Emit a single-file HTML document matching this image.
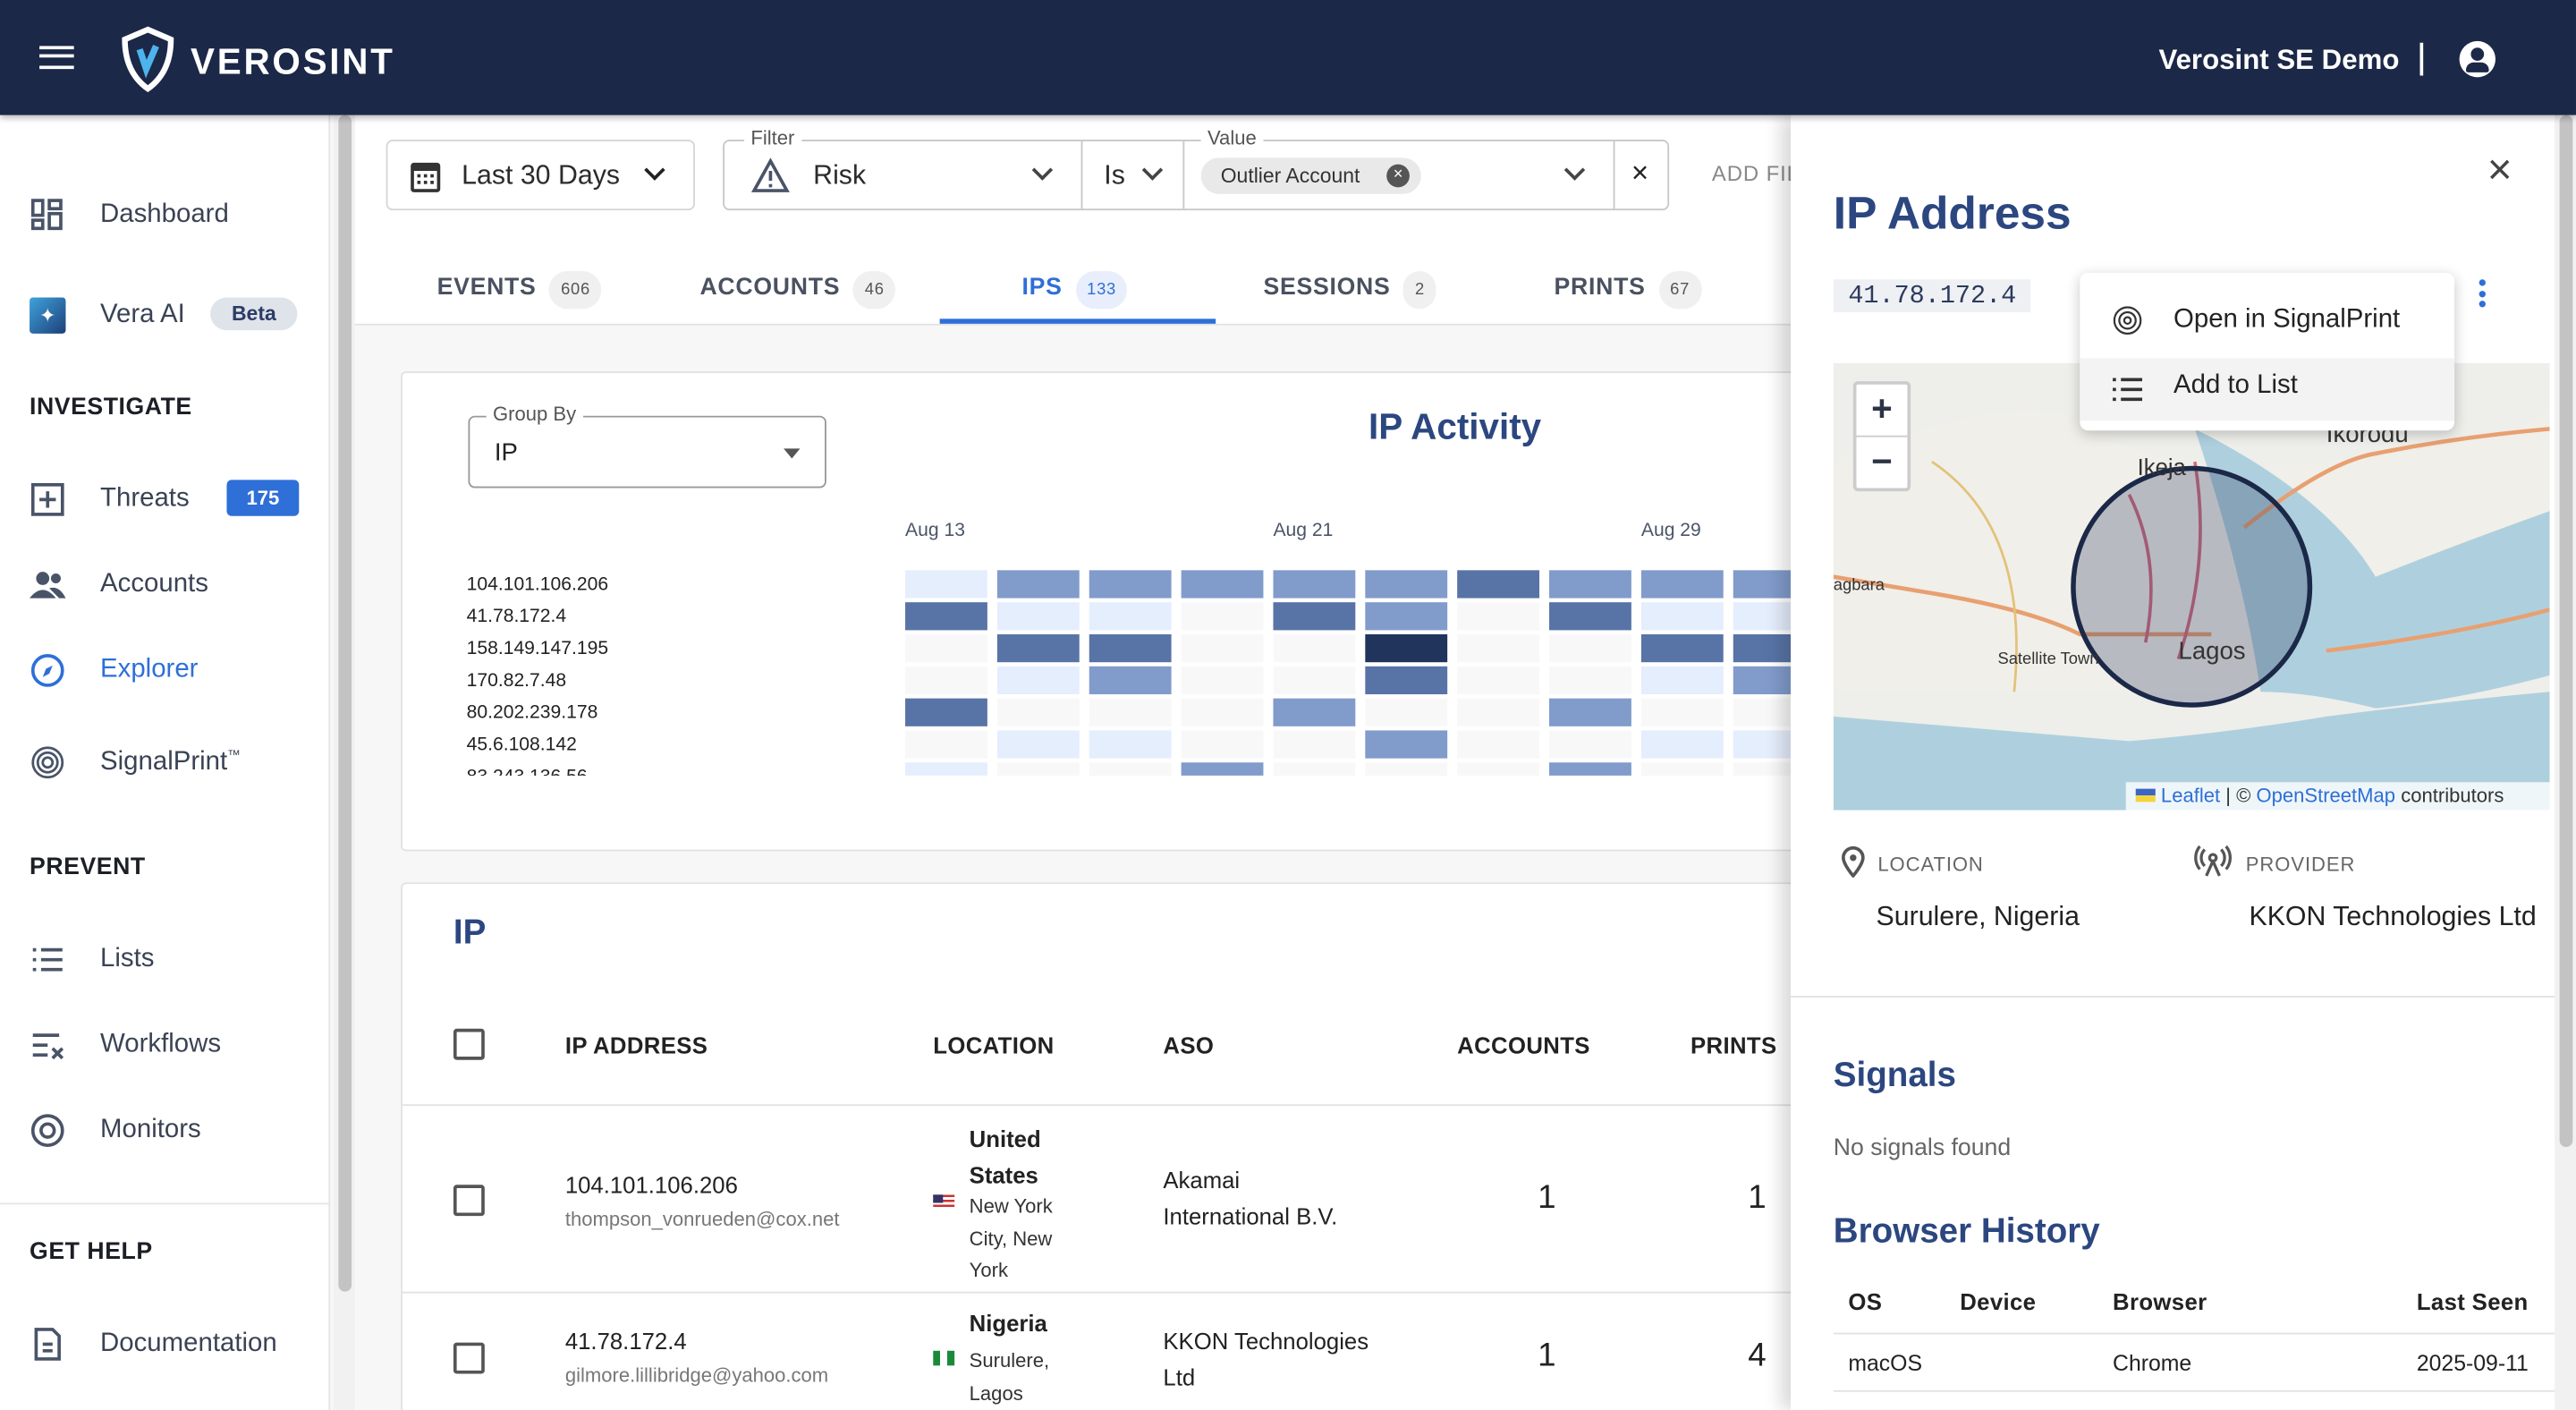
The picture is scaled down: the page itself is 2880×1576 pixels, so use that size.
<!DOCTYPE html>
<html><head><meta charset="utf-8">
<style>
*{box-sizing:border-box;margin:0;padding:0}
html,body{width:2880px;height:1576px;overflow:hidden;background:#fff}
body{font-family:"Liberation Sans",sans-serif;color:#2b3445}
#root{position:absolute;left:0;top:0;width:1568px;height:858px;transform:scale(1.83673);transform-origin:0 0;overflow:hidden;background:#f7f7f8}
.abs{position:absolute}
.hdr{left:0;top:0;width:1568px;height:70px;background:#1b2848;box-shadow:0 2px 4px rgba(0,0,0,.3);z-index:5}
.side{left:0;top:70px;width:201px;height:788px;background:#fff;border-right:1px solid #e4e4e4}
.nav{left:18px;font-size:16px;color:#3a4354}
.nav span{position:absolute;left:43px;white-space:nowrap}
.sec{left:18px;font-size:14.5px;font-weight:bold;color:#1c1f26;letter-spacing:.3px}
.ico{position:absolute;left:0;top:-2px;width:22px;height:22px}
.tab{font-size:14.5px;color:#4a5160;letter-spacing:.4px;font-weight:bold}
.badge{display:inline-block;background:#f0f0f0;border-radius:12px;font-size:10px;padding:6px 7px;margin-left:8px;color:#555;font-weight:normal}
.card{background:#fff;border:1px solid #e2e2e2;border-radius:3px}
.th{font-size:14px;font-weight:bold;color:#222;letter-spacing:.2px}
.cb{width:19px;height:19px;border:2px solid #555;border-radius:2px}
</style></head><body>
<div id="root">
<div class="abs hdr">
  <div class="abs" style="left:24px;top:28px;width:21px;height:14px;border-top:2.5px solid #fff;border-bottom:2.5px solid #fff"><div style="margin-top:3.3px;border-top:2.5px solid #fff"></div></div>
  <svg class="abs" style="left:73px;top:16px" width="34" height="40" viewBox="0 0 34 40"><path d="M17 2 L31 8 Q31 28 17 38 Q3 28 3 8 Z" fill="none" stroke="#fff" stroke-width="3.5"/><path d="M12 14 L16 26 L22 12" fill="none" stroke="#4db3ec" stroke-width="4"/></svg>
  <div class="abs" style="left:116px;top:25px;color:#fff;font-size:22px;font-weight:bold;letter-spacing:1.5px">VEROSINT</div>
  <div class="abs" style="left:1314px;top:27px;color:#fff;font-size:17px;font-weight:bold">Verosint SE Demo</div>
  <div class="abs" style="left:1473px;top:26px;width:2px;height:20px;background:#fff"></div>
  <div class="abs" style="left:1497px;top:25px;width:22px;height:22px;border-radius:50%;background:#fff"><div style="position:absolute;left:7px;top:4px;width:8px;height:8px;border-radius:50%;background:#1b2848"></div><div style="position:absolute;left:4px;top:13px;width:14px;height:6px;border-radius:7px 7px 2px 2px;background:#1b2848"></div></div>
</div>

<div class="abs side">
  <div class="abs nav" style="top:52px"><svg class="ico" viewBox="0 0 22 22"><g fill="none" stroke="#4a5468" stroke-width="2"><rect x="2" y="2" width="6" height="9"/><rect x="12" y="2" width="7" height="5"/><rect x="2" y="14" width="6" height="5"/><rect x="12" y="10" width="7" height="9"/></g></svg><span>Dashboard</span></div>
  <div class="abs nav" style="top:113px"><div class="ico" style="background:linear-gradient(135deg,#3ea3dd,#1e3f78);border-radius:2px;color:#fff;font-size:12px;text-align:center;line-height:22px">✦</div><span>Vera AI</span><span style="left:110px;top:-2px;background:#dfe3ea;color:#2c3c66;font-size:12.5px;font-weight:bold;padding:3px 13px;border-radius:10px">Beta</span></div>
  <div class="abs sec" style="top:170px">INVESTIGATE</div>
  <div class="abs nav" style="top:225px"><svg class="ico" viewBox="0 0 22 22"><rect x="2" y="2" width="18" height="18" fill="none" stroke="#4a5468" stroke-width="2"/><path d="M11 6v10M6 11h10" stroke="#4a5468" stroke-width="2"/></svg><span>Threats</span><span style="left:120px;top:-3px;background:#2e6fd8;color:#fff;font-size:12px;font-weight:bold;padding:4px 12px;border-radius:3px">175</span></div>
  <div class="abs nav" style="top:277px"><svg class="ico" viewBox="0 0 22 22"><g fill="#4a5468"><circle cx="8" cy="7" r="4"/><circle cx="16" cy="7" r="3"/><path d="M0 19q8-10 16 0z"/><path d="M12 13q6-2 10 6h-4z"/></g></svg><span>Accounts</span></div>
  <div class="abs nav" style="top:329px;color:#2e6fd8"><svg class="ico" viewBox="0 0 22 22"><circle cx="11" cy="11" r="9" fill="none" stroke="#2e6fd8" stroke-width="2"/><path d="M14 8l-2 5-4 2 2-5z" fill="#2e6fd8"/></svg><span>Explorer</span></div>
  <div class="abs nav" style="top:385px"><svg class="ico" viewBox="0 0 22 22"><g fill="none" stroke="#4a5468" stroke-width="1.5"><circle cx="11" cy="11" r="9"/><circle cx="11" cy="11" r="6"/><circle cx="11" cy="11" r="3"/></g></svg><span>SignalPrint<sup style="font-size:8px">™</sup></span></div>
  <div class="abs sec" style="top:450px">PREVENT</div>
  <div class="abs nav" style="top:505px"><svg class="ico" viewBox="0 0 22 22"><g stroke="#4a5468" stroke-width="2"><path d="M2 5h2M7 5h13M2 11h2M7 11h13M2 17h2M7 17h13"/></g></svg><span>Lists</span></div>
  <div class="abs nav" style="top:557px"><svg class="ico" viewBox="0 0 22 22"><g stroke="#4a5468" stroke-width="2"><path d="M2 5h16M2 11h9M2 17h9M14 13l6 6M20 13l-6 6"/></g></svg><span>Workflows</span></div>
  <div class="abs nav" style="top:609px"><svg class="ico" viewBox="0 0 22 22"><g fill="none" stroke="#4a5468" stroke-width="2"><circle cx="11" cy="11" r="9"/><circle cx="11" cy="11" r="4"/></g></svg><span>Monitors</span></div>
  <div class="abs" style="left:0;top:662px;width:200px;border-top:1px solid #e4e4e4"></div>
  <div class="abs sec" style="top:684px">GET HELP</div>
  <div class="abs nav" style="top:739px"><svg class="ico" viewBox="0 0 22 22"><path d="M4 2h10l4 4v14H4z M8 11h6M8 15h6" fill="none" stroke="#4a5468" stroke-width="2"/></svg><span>Documentation</span></div>
</div>
<div class="abs" style="left:203px;top:70px;width:13px;height:788px;background:#f1f1f1"><div style="margin:0 auto;width:8px;height:716px;background:#c3c3c3;border-radius:4px"></div></div>

<!-- main top -->
<div class="abs" style="left:216px;top:70px;width:880px;height:128px;background:#fff;border-bottom:1px solid #e2e2e2"></div>
<div class="abs" style="left:235px;top:85px;width:188px;height:43px;border:1px solid #d6d6d6;border-radius:4px;background:#fff">
  <svg class="abs" style="left:13px;top:10px" width="20" height="22" viewBox="0 0 20 22"><rect x="1" y="3" width="18" height="18" rx="2" fill="#333"/><rect x="3" y="8" width="14" height="11" fill="#fff"/><g fill="#333"><rect x="5" y="10" width="2" height="2"/><rect x="9" y="10" width="2" height="2"/><rect x="13" y="10" width="2" height="2"/><rect x="5" y="14" width="2" height="2"/><rect x="9" y="14" width="2" height="2"/><rect x="13" y="14" width="2" height="2"/></g></svg>
  <div class="abs" style="left:45px;top:12px;font-size:16.5px;color:#2b2b2b">Last 30 Days</div>
  <div class="abs" style="left:158px;top:13px;width:9px;height:9px;border-right:2px solid #222;border-bottom:2px solid #222;transform:rotate(45deg)"></div>
</div>
<div class="abs" style="left:440px;top:85px;width:576px;height:43px;border:1px solid #c8c8c8;border-radius:4px;background:#fff">
  <div class="abs" style="left:12px;top:-9px;background:#fff;padding:0 4px;font-size:12px;color:#555">Filter</div>
  <svg class="abs" style="left:16px;top:10px" width="24" height="22" viewBox="0 0 24 22"><path d="M12 2L22 20H2Z" fill="none" stroke="#4a5468" stroke-width="2"/><path d="M12 8v6M12 16v2" stroke="#4a5468" stroke-width="2"/></svg>
  <div class="abs" style="left:54px;top:12px;font-size:16.5px;color:#2b2b2b">Risk</div>
  <div class="abs" style="left:189px;top:13px;width:9px;height:9px;border-right:2px solid #444;border-bottom:2px solid #444;transform:rotate(45deg)"></div>
  <div class="abs" style="left:217px;top:0;height:41px;border-left:1px solid #c8c8c8"></div>
  <div class="abs" style="left:231px;top:12px;font-size:16.5px;color:#2b2b2b">Is</div>
  <div class="abs" style="left:256px;top:13px;width:9px;height:9px;border-right:2px solid #444;border-bottom:2px solid #444;transform:rotate(45deg)"></div>
  <div class="abs" style="left:279px;top:0;height:41px;border-left:1px solid #c8c8c8"></div>
  <div class="abs" style="left:290px;top:-9px;background:#fff;padding:0 4px;font-size:12px;color:#555">Value</div>
  <div class="abs" style="left:290px;top:10px;width:134px;height:22px;background:#e9e9e9;border-radius:11px;font-size:12.5px;color:#333;padding:4px 12px">Outlier Account<span style="position:absolute;right:7px;top:4px;width:14px;height:14px;border-radius:50%;background:#555;color:#fff;font-size:10px;line-height:14px;text-align:center">×</span></div>
  <div class="abs" style="left:513px;top:13px;width:9px;height:9px;border-right:2px solid #444;border-bottom:2px solid #444;transform:rotate(45deg)"></div>
  <div class="abs" style="left:541px;top:0;height:41px;border-left:1px solid #c8c8c8"></div>
  <div class="abs" style="left:552px;top:9px;font-size:18px;color:#222">×</div>
</div>
<div class="abs" style="left:1042px;top:98px;font-size:13px;color:#888;letter-spacing:.5px">ADD FILTER</div>

<div class="abs tab" style="left:266px;top:165px">EVENTS<span class="badge">606</span></div>
<div class="abs tab" style="left:426px;top:165px">ACCOUNTS<span class="badge">46</span></div>
<div class="abs tab" style="left:622px;top:165px;color:#2e6fd8">IPS<span class="badge" style="background:#e8eefb;color:#2e6fd8">133</span></div>
<div class="abs" style="left:572px;top:194px;width:168px;height:3px;background:#2e6fd8"></div>
<div class="abs tab" style="left:769px;top:165px">SESSIONS<span class="badge">2</span></div>
<div class="abs tab" style="left:946px;top:165px">PRINTS<span class="badge">67</span></div>

<!-- IP activity card -->
<div class="abs card" style="left:244px;top:226px;width:870px;height:292px">
  <div class="abs" style="left:40px;top:26px;width:218px;height:44px;border:1px solid #999;border-radius:4px">
    <div class="abs" style="left:10px;top:-9px;background:#fff;padding:0 4px;font-size:12px;color:#555">Group By</div>
    <div class="abs" style="left:15px;top:13px;font-size:15px;color:#222">IP</div>
    <div class="abs" style="left:191px;top:19px;border:5px solid transparent;border-top:6px solid #555"></div>
  </div>
  <div class="abs" style="left:588px;top:20px;font-size:22px;font-weight:bold;color:#2c4780">IP Activity</div>
</div>
<svg class="abs" style="left:270px;top:300px" width="830" height="175" id="hm"></svg>

<!-- IP table card -->
<div class="abs card" style="left:244px;top:537px;width:870px;height:340px">
  <div class="abs" style="left:31px;top:18px;font-size:21px;font-weight:bold;color:#2c4780">IP</div>
  <div class="abs cb" style="left:31px;top:88px"></div>
  <div class="abs th" style="left:99px;top:90px">IP ADDRESS</div>
  <div class="abs th" style="left:323px;top:90px">LOCATION</div>
  <div class="abs th" style="left:463px;top:90px">ASO</div>
  <div class="abs th" style="left:642px;top:90px">ACCOUNTS</div>
  <div class="abs th" style="left:784px;top:90px">PRINTS</div>
  <div class="abs" style="left:0;top:134px;width:870px;border-top:1px solid #e2e2e2"></div>
  <div class="abs" style="left:0;top:248px;width:870px;border-top:1px solid #e2e2e2"></div>
  <div class="abs" style="left:0;top:135px;width:870px;height:113px">
    <div class="abs cb" style="left:31px;top:48px"></div>
    <div class="abs" style="left:99px;top:40px;font-size:14px;color:#222">104.101.106.206</div>
    <div class="abs" style="left:99px;top:62px;font-size:12px;color:#777">thompson_vonrueden@cox.net</div>
    <div class="abs" style="left:323px;top:54px;width:13px;height:9px;background:repeating-linear-gradient(#c33 0 1.5px,#fff 1.5px 3px)"><div style="width:6px;height:5px;background:#336"></div></div>
    <div class="abs" style="left:345px;top:9px;font-size:14px;font-weight:bold;color:#222;line-height:22px">United<br>States</div>
    <div class="abs" style="left:345px;top:52px;font-size:12px;color:#333;line-height:19.5px">New York<br>City, New<br>York</div>
    <div class="abs" style="left:463px;top:34px;font-size:14px;color:#222;line-height:22px">Akamai<br>International B.V.</div>
    <div class="abs" style="left:691px;top:45px;font-size:20px;color:#222">1</div>
    <div class="abs" style="left:819px;top:45px;font-size:20px;color:#222">1</div>
  </div>
  <div class="abs" style="left:0;top:249px;width:870px;height:100px">
    <div class="abs cb" style="left:31px;top:30px"></div>
    <div class="abs" style="left:99px;top:21px;font-size:14px;color:#222">41.78.172.4</div>
    <div class="abs" style="left:99px;top:43px;font-size:12px;color:#777">gilmore.lillibridge@yahoo.com</div>
    <div class="abs" style="left:323px;top:35px;width:13px;height:9px;background:linear-gradient(90deg,#1a8a3a 33%,#fff 33% 66%,#1a8a3a 66%)"></div>
    <div class="abs" style="left:345px;top:10px;font-size:14px;font-weight:bold;color:#222">Nigeria</div>
    <div class="abs" style="left:345px;top:32px;font-size:12px;color:#333;line-height:19.5px">Surulere,<br>Lagos</div>
    <div class="abs" style="left:463px;top:18px;font-size:14px;color:#222;line-height:22px">KKON Technologies<br>Ltd</div>
    <div class="abs" style="left:691px;top:27px;font-size:20px;color:#222">1</div>
    <div class="abs" style="left:819px;top:27px;font-size:20px;color:#222">4</div>
  </div>
</div>

<!-- side panel -->
<div class="abs" style="left:1090px;top:70px;width:478px;height:788px;background:#fff;box-shadow:-6px 0 10px rgba(0,0,0,.15);z-index:3">
  <div class="abs" style="left:424px;top:22px;font-size:26px;color:#444;line-height:22px">×</div>
  <div class="abs" style="left:26px;top:44px;font-size:28px;font-weight:bold;color:#2c4780">IP Address</div>
  <div class="abs" style="left:26px;top:100px;background:#eef0f3;font-family:'Liberation Mono',monospace;font-size:15.5px;color:#2c3a5e;padding:1px 9px">41.78.172.4</div>
  <div class="abs" style="left:418px;top:100px;width:6px;height:18px"><div style="width:4px;height:4px;border-radius:2px;background:#2e6fd8;margin:0 auto 2.5px"></div><div style="width:4px;height:4px;border-radius:2px;background:#2e6fd8;margin:0 auto 2.5px"></div><div style="width:4px;height:4px;border-radius:2px;background:#2e6fd8;margin:0 auto"></div></div>
  <div class="abs" style="left:26px;top:151px;width:436px;height:272px;overflow:hidden;background:#eeeeea">
    <svg width="436" height="272" viewBox="0 0 436 272">
      <path d="M0 60 Q120 10 160 40 T300 60 T436 30 V120 Q380 110 330 150 Q300 180 260 200 L0 200Z" fill="#f0efe9"/>
      <path d="M220 40 Q300 80 330 130 Q380 110 436 90 V190 Q380 205 330 210 Q290 200 260 200 Q250 130 220 40Z" fill="#aed0de"/>
      <path d="M0 215 Q120 225 180 230 Q240 225 300 215 Q380 205 436 200 V272 H0Z" fill="#aed0de"/>
      <path d="M0 130 L60 140 Q120 150 150 165 L230 165" fill="none" stroke="#e8a071" stroke-width="2.5"/>
      <path d="M250 100 Q300 60 330 55 Q380 45 436 40" fill="none" stroke="#e8a071" stroke-width="2.5"/>
      <path d="M180 80 Q200 120 190 170 M220 60 Q230 120 210 180" fill="none" stroke="#d26b80" stroke-width="2"/>
      <path d="M300 175 Q380 165 436 150" fill="none" stroke="#e8a071" stroke-width="2.5"/>
      <path d="M60 60 Q120 100 110 200" fill="none" stroke="#e3c27a" stroke-width="1.5"/>
      <ellipse cx="218" cy="136" rx="72" ry="72" fill="rgba(40,50,90,.28)" stroke="#1b2848" stroke-width="3"/>
      <text x="210" y="180" font-family="Liberation Sans" font-size="15" fill="#333">Lagos</text>
      <text x="185" y="68" font-family="Liberation Sans" font-size="14" fill="#333">Ikeja</text>
      <text x="100" y="183" font-family="Liberation Sans" font-size="10" fill="#333">Satellite Town</text>
      <text x="0" y="138" font-family="Liberation Sans" font-size="10" fill="#333">agbara</text>
      <text x="300" y="48" font-family="Liberation Sans" font-size="15" fill="#333">Ikorodu</text>
    </svg>
    <div class="abs" style="left:12px;top:11px;width:35px;height:67px;background:#fff;border:2px solid #ccc;border-radius:3px"><div style="height:32px;border-bottom:1px solid #ccc;text-align:center;font-size:22px;font-weight:bold;line-height:30px">+</div><div style="text-align:center;font-size:22px;font-weight:bold;line-height:30px">−</div></div>
    <div class="abs" style="left:178px;top:255px;width:258px;height:17px;background:rgba(255,255,255,.8);font-size:12px;color:#333;padding:1px 6px;white-space:nowrap"><span style="display:inline-block;width:12px;height:8px;background:linear-gradient(#3a66c4 50%,#f5d33c 50%)"></span> <span style="color:#2e6fd8">Leaflet</span> | © <span style="color:#2e6fd8">OpenStreetMap</span> contributors</div>
  </div>
  <div class="abs" style="left:176px;top:96px;width:228px;height:96px;background:#fff;border-radius:5px;box-shadow:0 2px 8px rgba(0,0,0,.22)">
    <div class="abs" style="left:0;top:0;width:228px;height:52px"><svg class="abs" style="left:20px;top:20px" width="18" height="18" viewBox="0 0 18 18"><g fill="none" stroke="#333" stroke-width="1.2"><circle cx="9" cy="9" r="8"/><circle cx="9" cy="9" r="5"/><circle cx="9" cy="9" r="2"/></g></svg><div class="abs" style="left:57px;top:20px;font-size:16px;color:#222">Open in SignalPrint</div></div>
    <div class="abs" style="left:0;top:52px;width:228px;height:38px;background:#f3f3f3"><svg class="abs" style="left:20px;top:11px" width="18" height="16" viewBox="0 0 18 16"><g stroke="#333" stroke-width="2"><path d="M0 2h2M5 2h13M0 8h2M5 8h13M0 14h2M5 14h13"/></g></svg><div class="abs" style="left:57px;top:8px;font-size:16px;color:#222">Add to List</div></div>
  </div>
  <svg class="abs" style="left:30px;top:444px" width="16" height="20" viewBox="0 0 16 20"><path d="M8 19s6-7 6-11A6 6 0 0 0 2 8c0 4 6 11 6 11z" fill="none" stroke="#555" stroke-width="2"/><circle cx="8" cy="8" r="2" fill="#555"/></svg>
  <div class="abs" style="left:53px;top:449px;font-size:12px;color:#666;letter-spacing:.5px">LOCATION</div>
  <div class="abs" style="left:52px;top:479px;font-size:16.5px;color:#222">Surulere, Nigeria</div>
  <svg class="abs" style="left:245px;top:444px" width="24" height="20" viewBox="0 0 24 20"><g fill="none" stroke="#555" stroke-width="1.8"><circle cx="12" cy="8" r="2"/><path d="M12 10L8 19M12 10l4 9M7 3a7 7 0 0 0 0 10M17 3a7 7 0 0 1 0 10M4 1a11 11 0 0 0 0 14M20 1a11 11 0 0 1 0 14"/></g></svg>
  <div class="abs" style="left:277px;top:449px;font-size:12px;color:#666;letter-spacing:.5px">PROVIDER</div>
  <div class="abs" style="left:279px;top:479px;font-size:16.5px;color:#222;white-space:nowrap">KKON Technologies Ltd</div>
  <div class="abs" style="left:0;top:536px;width:465px;border-top:1px solid #e2e2e2"></div>
  <div class="abs" style="left:26px;top:573px;font-size:21px;font-weight:bold;color:#2c4780">Signals</div>
  <div class="abs" style="left:26px;top:621px;font-size:14.5px;color:#666">No signals found</div>
  <div class="abs" style="left:26px;top:668px;font-size:21px;font-weight:bold;color:#2c4780">Browser History</div>
  <div class="abs th" style="left:35px;top:714px">OS</div>
  <div class="abs th" style="left:103px;top:714px">Device</div>
  <div class="abs th" style="left:196px;top:714px">Browser</div>
  <div class="abs th" style="left:381px;top:714px">Last Seen</div>
  <div class="abs" style="left:26px;top:741px;width:439px;border-top:1px solid #e2e2e2"></div>
  <div class="abs" style="left:35px;top:752px;font-size:13.5px;color:#222">macOS</div>
  <div class="abs" style="left:196px;top:752px;font-size:13.5px;color:#222">Chrome</div>
  <div class="abs" style="left:381px;top:752px;font-size:13.5px;color:#222">2025-09-11</div>
  <div class="abs" style="left:26px;top:776px;width:439px;border-top:1px solid #e2e2e2"></div>
  <div class="abs" style="left:465px;top:0;width:13px;height:788px;background:#f1f1f1"><div style="margin:0 auto;width:8px;height:628px;background:#c3c3c3;border-radius:4px"></div></div>
</div>
</div>
<script>
const ipLabels = ["104.101.106.206","41.78.172.4","158.149.147.195","170.82.7.48","80.202.239.178","45.6.108.142","83.243.136.56"];
const dateTicks = ["Aug 13","","","","Aug 21","","","","Aug 29",""];
const row0 = [1,2,2,2,2,2,3,2,2,2];
const row1 = [3,1,1,0,3,2,0,3,1,1];
const row2 = [0,3,3,0,0,4,0,0,3,3];
const row3 = [0,1,2,0,0,3,0,0,1,2];
const row4 = [3,0,0,0,2,0,0,2,0,0];
const row5 = [0,1,1,0,0,2,0,0,1,1];
const row6 = [1,0,0,2,0,0,0,2,0,0];
const rows = [row0,row1,row2,row3,row4,row5,row6];
const palette = ["#f8f8f8","#e5eefd","#819bcb","#5874a6","#21345b"];
(function(){
  const NS="http://www.w3.org/2000/svg";
  const svg=document.getElementById('hm');
  const x0=281, colW=56, cellW=50, y0=47, rowH=19.5, cellH=17, clipX=820, clipY=172;
  const xs=i=>x0+i*colW, ys=j=>y0+j*rowH;
  dateTicks.forEach((t,i)=>{ if(!t) return;
    const tx=document.createElementNS(NS,'text');
    
    
    tx.setAttribute('x',xs(i)); tx.setAttribute('y',26);
    tx.setAttribute('font-family','Liberation Sans'); tx.setAttribute('font-size','11.5'); tx.setAttribute('fill','#4a5468');
    tx.textContent=t; svg.appendChild(tx);});
  ipLabels.forEach((l,j)=>{
    const tx=document.createElementNS(NS,'text');
    
    
    tx.setAttribute('x',14); tx.setAttribute('y',ys(j)+12);
    tx.setAttribute('font-family','Liberation Sans'); tx.setAttribute('font-size','11.5'); tx.setAttribute('fill','#222');
    tx.textContent=l; svg.appendChild(tx);});
  rows.forEach((r,j)=>r.forEach((v,i)=>{
    const x=xs(i), y=ys(j);
    if(x>=clipX||y>=clipY) return;
    const rc=document.createElementNS(NS,'rect');
    
    
    rc.setAttribute('x',x); rc.setAttribute('y',y);
    rc.setAttribute('width',Math.min(cellW,clipX-x)); rc.setAttribute('height',Math.min(cellH,clipY-y));
    rc.setAttribute('fill',palette[v]); svg.appendChild(rc);}));
  const cover=document.createElementNS(NS,'rect');
  cover.setAttribute('x',0);cover.setAttribute('y',clipY);cover.setAttribute('width',830);cover.setAttribute('height',10);cover.setAttribute('fill','#fff');
  svg.appendChild(cover);
})();
</script>
</body></html>
